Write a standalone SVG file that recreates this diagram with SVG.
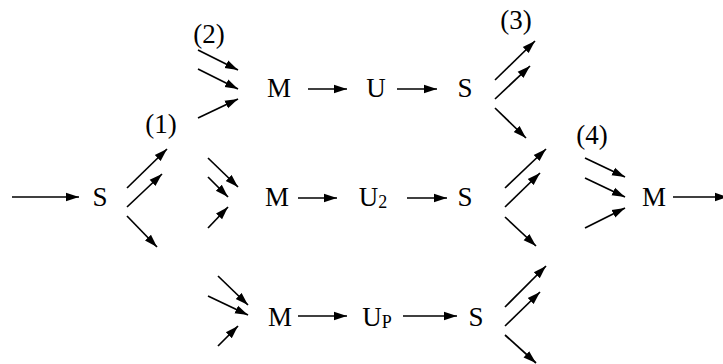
<svg xmlns="http://www.w3.org/2000/svg" width="723" height="364" viewBox="0 0 723 364">
<defs>
<marker id="ah" markerUnits="userSpaceOnUse" markerWidth="14" markerHeight="10" viewBox="0 0 14 10" refX="13" refY="5" orient="auto">
<path d="M0,0.8 L13,5 L0,9.2 Z" fill="#000"/>
</marker>
<style>
text{font-family:"Liberation Serif","Times New Roman",serif;font-size:27px;fill:#000;text-anchor:middle}
.sub{font-size:18px}
line{stroke:#000;stroke-width:1.7;marker-end:url(#ah)}
</style>
</defs>
<rect width="723" height="364" fill="#fff"/>
<g id="nodes">
<g id="s0"><text x="100" y="206">S</text></g>
<g id="m1"><text x="279" y="97">M</text></g>
<g id="u1"><text x="376" y="97">U</text></g>
<g id="s1"><text x="465" y="97">S</text></g>
<g id="m2"><text x="277" y="206">M</text></g>
<g id="u2"><text x="373" y="206">U<tspan class="sub" dy="2">2</tspan></text></g>
<g id="s2"><text x="465" y="206">S</text></g>
<g id="m3"><text x="280" y="326">M</text></g>
<g id="u3"><text x="377" y="326">U<tspan class="sub" dy="2">P</tspan></text></g>
<g id="s3"><text x="476" y="326">S</text></g>
<g id="m4"><text x="654" y="206">M</text></g>
<g id="l1"><text x="161" y="133">(1)</text></g>
<g id="l2"><text x="209" y="43">(2)</text></g>
<g id="l3"><text x="516" y="29">(3)</text></g>
<g id="l4"><text x="592" y="144">(4)</text></g>
</g>
<g id="connectors">
<line x1="12" y1="197" x2="79" y2="197"/>
<line x1="127" y1="188" x2="167" y2="149"/>
<line x1="127" y1="207" x2="162" y2="174"/>
<line x1="127" y1="216" x2="157" y2="247"/>
<line x1="198" y1="50" x2="238" y2="70"/>
<line x1="198" y1="69" x2="238" y2="89"/>
<line x1="198" y1="118" x2="238" y2="99"/>
<line x1="308" y1="89" x2="347" y2="89"/>
<line x1="397" y1="89" x2="437" y2="89"/>
<line x1="495" y1="80" x2="535" y2="41"/>
<line x1="495" y1="99" x2="530" y2="66"/>
<line x1="495" y1="108" x2="526" y2="138"/>
<line x1="208" y1="158" x2="238" y2="187"/>
<line x1="208" y1="177" x2="228" y2="197"/>
<line x1="208" y1="228" x2="228" y2="207"/>
<line x1="298" y1="198" x2="337" y2="198"/>
<line x1="407" y1="198" x2="447" y2="198"/>
<line x1="505" y1="188" x2="546" y2="149"/>
<line x1="505" y1="207" x2="540" y2="173"/>
<line x1="505" y1="217" x2="536" y2="246"/>
<line x1="585" y1="158" x2="625" y2="177"/>
<line x1="585" y1="178" x2="625" y2="197"/>
<line x1="585" y1="228" x2="625" y2="208"/>
<line x1="673" y1="197" x2="728" y2="197"/>
<line x1="218" y1="276" x2="248" y2="305"/>
<line x1="208" y1="296" x2="248" y2="315"/>
<line x1="218" y1="346" x2="238" y2="326"/>
<line x1="298" y1="316" x2="347" y2="316"/>
<line x1="403" y1="316" x2="457" y2="316"/>
<line x1="505" y1="307" x2="546" y2="266"/>
<line x1="505" y1="326" x2="540" y2="292"/>
<line x1="505" y1="335" x2="536" y2="363"/>
</g>
</svg>
